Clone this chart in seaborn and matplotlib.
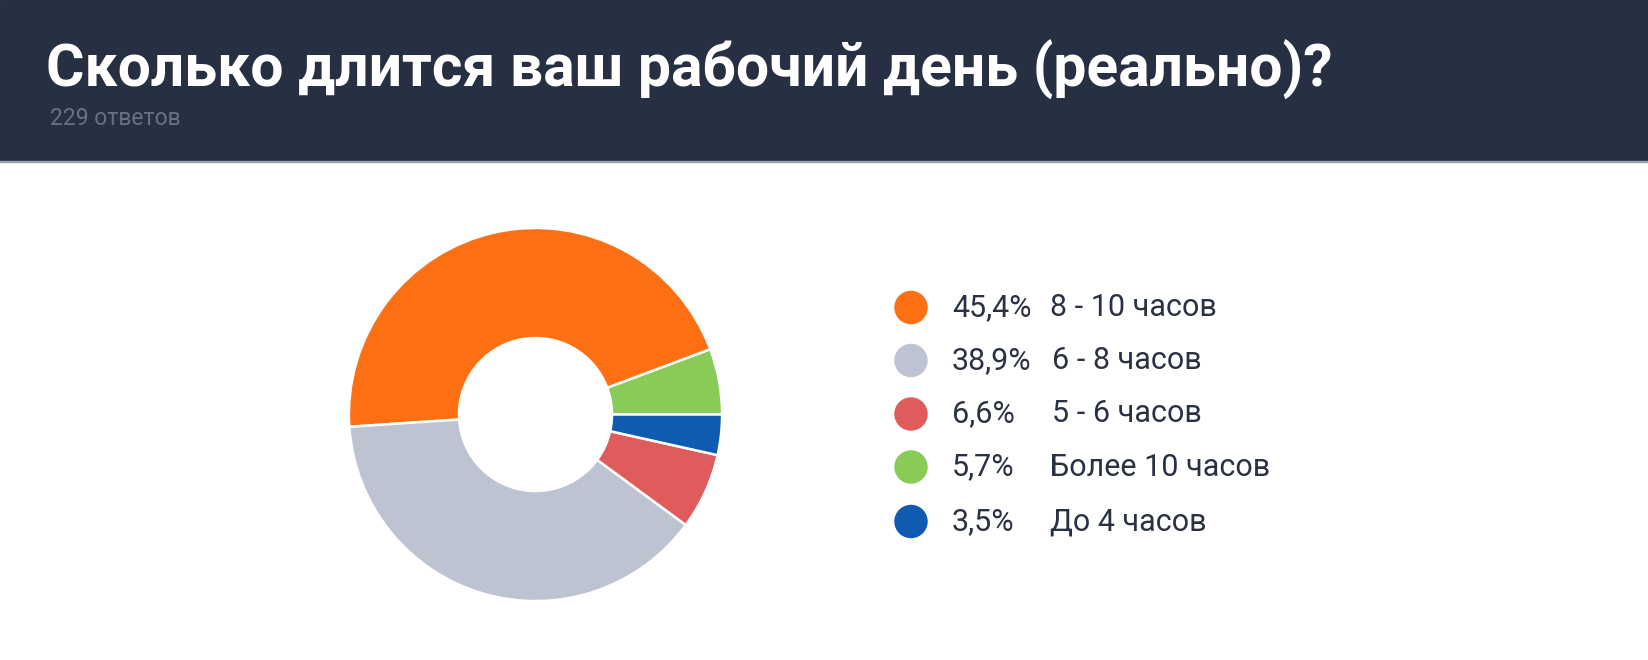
import matplotlib
matplotlib.use("Agg")
import matplotlib.pyplot as plt
import seaborn as sns

title = "Сколько длится ваш рабочий день (реально)?"
subtitle = "229 ответов"
labels = ["8 - 10 часов", "6 - 8 часов", "5 - 6 часов", "Более 10 часов", "До 4 часов"]
percents = [45.4, 38.9, 6.6, 5.7, 3.5]
colors = ["#fd6f13", "#bdc3d1", "#e05c5c", "#88cb57", "#105bb2"]
pct_text = ["45,4%", "38,9%", "6,6%", "5,7%", "3,5%"]
pie_order = [3, 0, 1, 2, 4]  # counter-clockwise order from 3 o'clock

sns.set_theme(style="white")
plt.rcParams["font.family"] = ["Roboto", "DejaVu Sans"]

W, H, DPI = 1648, 660, 100
fig = plt.figure(figsize=(W / DPI, H / DPI), dpi=DPI, facecolor="white")

# overlay in pixel coordinates
ov = fig.add_axes([0, 0, 1, 1])
ov.set_xlim(0, W)
ov.set_ylim(H, 0)
ov.axis("off")
ov.add_patch(plt.Rectangle((0, 0), W, 161, color="#272f42", zorder=0))
ov.add_patch(plt.Rectangle((0, 160.5), W, 1.5, color="#9aa0ab", zorder=0))
ov.text(46, 87, title, color="white", fontsize=42.3, fontweight="bold",
        va="baseline", ha="left")
ov.text(50, 125, subtitle, color="#687186", fontsize=16.5, va="baseline", ha="left")

# donut
ax = fig.add_axes([348 / W, 1 - 602 / H, 375 / W, 375 / H])
ax.pie([percents[i] for i in pie_order], colors=[colors[i] for i in pie_order],
       startangle=0, counterclock=True, radius=1,
       wedgeprops=dict(width=0.59, edgecolor="white", linewidth=1.8))
ax.set_xlim(-1.005, 1.005)
ax.set_ylim(-1.005, 1.005)
ax.set_aspect("equal")
ax.axis("off")

# legend
rows_y = [307.5, 360.5, 414, 467, 521.5]
sns.scatterplot(x=[911] * len(labels), y=rows_y, hue=labels, palette=colors,
                s=580, edgecolor="none", legend=False, ax=ov, zorder=3)
label_x = [1050, 1052, 1052, 1050, 1050]
for y, p, lab, lx in zip(rows_y, pct_text, labels, label_x):
    ov.text(952, y, p, color="#2a3142", fontsize=22, va="center", ha="left")
    ov.text(lx, y, lab, color="#2a3142", fontsize=22, va="center", ha="left")

fig.savefig("out.png", dpi=DPI, facecolor="white")
